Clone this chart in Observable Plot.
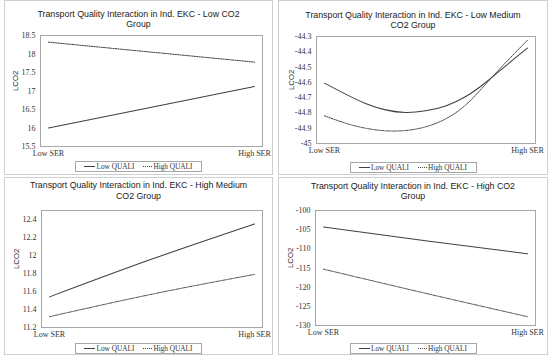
<!DOCTYPE html>
<html><head><meta charset="utf-8">
<script src="https://cdn.jsdelivr.net/npm/d3@7"></script>
<script src="https://cdn.jsdelivr.net/npm/@observablehq/plot@0.6"></script>
<style>
body{margin:0;background:#fff;}
#root{position:relative;width:550px;height:361px;background:#fff;overflow:hidden;}
.pbox{position:absolute;border:1px solid #cfcfcf;box-sizing:border-box;}
.tline{position:absolute;text-align:center;white-space:nowrap;font-family:"Liberation Sans",Arial,sans-serif;font-size:8.8px;line-height:10px;color:#1a1a1a;}
.legend{position:absolute;border:1px solid #a6a6a6;box-sizing:border-box;height:11px;font-family:"Liberation Serif",serif;font-size:7.3px;color:#333;display:flex;align-items:center;justify-content:center;background:#fff;}
.legend .s{display:inline-block;width:11px;border-top:1px solid #404040;margin-right:1px;}
.legend .d{display:inline-block;width:9px;border-top:1px dotted #404040;margin-right:1px;margin-left:9px;}
svg{position:absolute;}
</style>
</head><body><div id="root"></div>
<script>
const xLabels = ["Low SER", "High SER"];
const seriesNames = ["Low QUALI", "High QUALI"];
const yLabel = "LCO2";

const titles = [
  ["Transport Quality Interaction in Ind. EKC - Low CO2", "Group"],
  ["Transport Quality Interaction in Ind. EKC - Low Medium", "CO2 Group"],
  ["Transport Quality Interaction in Ind. EKC - High Medium", "CO2 Group"],
  ["Transport Quality Interaction in Ind. EKC - High CO2", "Group"]
];

// Panel 1: Low CO2
const p1X = [0, 1];
const p1Low = [16.0, 17.12];
const p1High = [18.32, 17.78];
const p1Ticks = [15.5, 16, 16.5, 17, 17.5, 18, 18.5];
const p1Domain = [15.5, 18.5];

// Panel 2: Low Medium CO2
const p2X = [0, 0.104, 0.202, 0.301, 0.4, 0.498, 0.597, 0.696, 0.794, 0.893, 1];
const p2Low = [-44.605, -44.677, -44.738, -44.780, -44.797, -44.786, -44.754, -44.693, -44.601, -44.492, -44.376];
const p2High = [-44.819, -44.867, -44.900, -44.917, -44.915, -44.891, -44.839, -44.747, -44.612, -44.470, -44.324];
const p2Ticks = [-45, -44.9, -44.8, -44.7, -44.6, -44.5, -44.4, -44.3];
const p2Domain = [-45, -44.3];

// Panel 3: High Medium CO2
const p3X = [0, 0.5, 1];
const p3Low = [11.54, 11.96, 12.35];
const p3High = [11.32, 11.57, 11.79];
const p3Ticks = [11.2, 11.4, 11.6, 11.8, 12, 12.2, 12.4];
const p3Domain = [11.2, 12.5];

// Panel 4: High CO2
const p4X = [0, 0.5, 1];
const p4Low = [-104.3, -107.9, -111.3];
const p4High = [-115.3, -121.6, -127.7];
const p4Ticks = [-130, -125, -120, -115, -110, -105, -100];
const p4Domain = [-130, -100];

const panels = [
  {box:[4,0,269,175], frame:[40,262,35,146], titleY:[14,24], legendY:161, x:p1X, low:p1Low, high:p1High, ticks:p1Ticks, domain:p1Domain, curve:"linear", title:titles[0]},
  {box:[278,0,270,175], frame:[316,535,36,143], titleY:[15,25], legendY:162, x:p2X, low:p2Low, high:p2High, ticks:p2Ticks, domain:p2Domain, curve:"natural", title:titles[1]},
  {box:[4,177,269,178], frame:[41,262,210,327], titleY:[185,196], legendY:343, x:p3X, low:p3Low, high:p3High, ticks:p3Ticks, domain:p3Domain, curve:"natural", title:titles[2]},
  {box:[278,177,270,178], frame:[315,535,210,325], titleY:[186,196], legendY:343, x:p4X, low:p4Low, high:p4High, ticks:p4Ticks, domain:p4Domain, curve:"natural", title:titles[3]}
];

const root = document.getElementById("root");

for (const p of panels) {
  const [bl, bt, bw, bh] = p.box;
  const [fx0, fx1, fy0, fy1] = p.frame;
  const b = document.createElement("div");
  b.className = "pbox";
  Object.assign(b.style, {left: bl+"px", top: bt+"px", width: bw+"px", height: bh+"px"});
  root.appendChild(b);

  const lowData = p.x.map((x, i) => ({x, v: p.low[i]}));
  const highData = p.x.map((x, i) => ({x, v: p.high[i]}));

  const svg = Plot.plot({
    width: bw, height: bh,
    marginLeft: fx0 - bl, marginRight: bl + bw - fx1,
    marginTop: fy0 - bt, marginBottom: bt + bh - fy1,
    style: {fontFamily: "'Liberation Serif', serif", fontSize: "8px", color: "#333", background: "transparent", overflow: "visible"},
    x: {domain: [0, 1], inset: 8},
    y: {domain: p.domain},
    marks: [
      Plot.frame({stroke: "#a6a6a6"}),
      Plot.axisY({ticks: p.ticks, tickSize: 0, tickPadding: 5, tickFormat: d => String(d), label: null}),
      Plot.axisX({ticks: [0, 1], tickSize: 0, tickPadding: 4, tickFormat: d => xLabels[d], label: null}),
      Plot.text([yLabel], {frameAnchor: "left", text: d => d, rotate: -90, dx: -25, fontFamily: "'Liberation Sans', Arial, sans-serif", fontSize: 7.8, fill: "#1a1a1a"}),
      Plot.line(highData, {x: "x", y: "v", curve: p.curve, stroke: "#404040", strokeWidth: 1, strokeDasharray: "1.3,1.1"}),
      Plot.line(lowData, {x: "x", y: "v", curve: p.curve, stroke: "#404040", strokeWidth: 1.05})
    ]
  });
  svg.style.left = bl + "px";
  svg.style.top = bt + "px";
  root.appendChild(svg);

  p.title.forEach((t, i) => {
    const d = document.createElement("div");
    d.className = "tline";
    d.textContent = t;
    Object.assign(d.style, {left: bl+"px", width: bw+"px", top: (p.titleY[i] - 5)+"px"});
    root.appendChild(d);
  });

  const lg = document.createElement("div");
  lg.className = "legend";
  const lw = 127;
  Object.assign(lg.style, {left: (bl + (bw - lw)/2)+"px", width: lw+"px", top: p.legendY+"px"});
  lg.innerHTML = `<span class="s"></span><span>${seriesNames[0]}</span><span class="d"></span><span>${seriesNames[1]}</span>`;
  root.appendChild(lg);
}
</script>
</body></html>
